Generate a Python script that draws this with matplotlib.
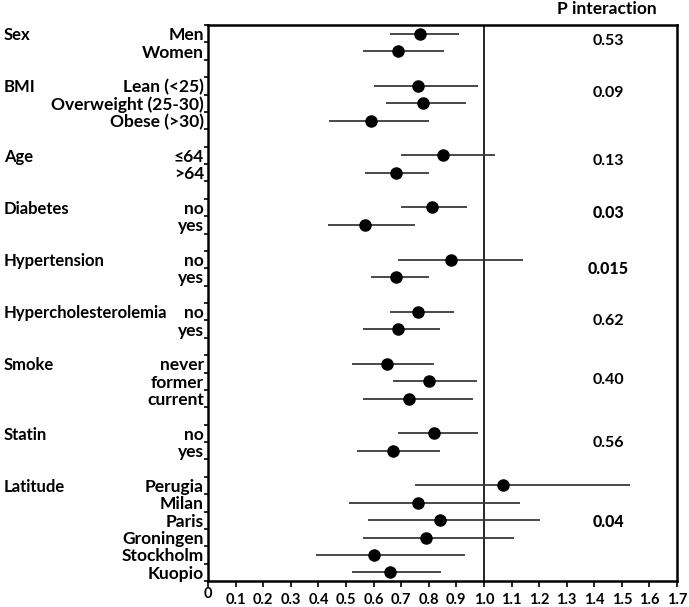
import numpy as np
import matplotlib.pyplot as plt
from matplotlib import transforms

plt.rcParams['font.family'] = ['Lato', 'DejaVu Sans']

# Sous-groupes et niveaux
groups = ["Sex", "BMI", "Age", "Diabetes", "Hypertension",
          "Hypercholesterolemia", "Smoke", "Statin", "Latitude"]
levels = [["Men", "Women"],
          ["Lean (<25)", "Overweight (25-30)", "Obese (>30)"],
          ["≤64", ">64"],
          ["no", "yes"],
          ["no", "yes"],
          ["no", "yes"],
          ["never", "former", "current"],
          ["no", "yes"],
          ["Perugia", "Milan", "Paris", "Groningen", "Stockholm", "Kuopio"]]

# Estimations et intervalles de confiance
estimate = [[0.77, 0.69],
            [0.76, 0.78, 0.59],
            [0.85, 0.68],
            [0.81, 0.57],
            [0.88, 0.68],
            [0.76, 0.69],
            [0.65, 0.80, 0.73],
            [0.82, 0.67],
            [1.07, 0.76, 0.84, 0.79, 0.60, 0.66]]
ci_low = [[0.66, 0.56],
          [0.60, 0.645, 0.44],
          [0.70, 0.57],
          [0.70, 0.435],
          [0.69, 0.59],
          [0.66, 0.56],
          [0.52, 0.67, 0.56],
          [0.69, 0.54],
          [0.75, 0.51, 0.58, 0.56, 0.39, 0.52]]
ci_high = [[0.91, 0.855],
           [0.98, 0.935, 0.80],
           [1.04, 0.80],
           [0.94, 0.75],
           [1.14, 0.80],
           [0.89, 0.84],
           [0.82, 0.975, 0.96],
           [0.98, 0.84],
           [1.53, 1.13, 1.205, 1.11, 0.93, 0.845]]

p_values = ["0.53", "0.09", "0.13", "0.03", "0.015", "0.62", "0.40", "0.56", "0.04"]
p_bold = [False, False, False, True, True, False, False, False, True]

xticks = [round(0.1 * i, 1) for i in range(18)]
xticklabels = ["0"] + [f"{v:.1f}" for v in xticks[1:]]

# Position verticale du texte P par rapport a la premiere ligne du groupe
p_offset = [0.35, 0.3, 0.25, 0.25, 0.45, 0.45, 0.85, 0.45, 2.0]

fig = plt.figure(figsize=(6.89, 6.07), dpi=100)
ax = fig.add_axes([0.302, 0.0428, 0.6806, 0.916])
trans = transforms.blended_transform_factory(fig.transFigure, ax.transData)

row = 0
rows_all, labels_all = [], []
for g, name in enumerate(groups):
    n = len(levels[g])
    ys = np.arange(row, row + n)
    ax.hlines(ys, ci_low[g], ci_high[g], color="#3a3a3a", lw=1.3, zorder=2)
    ax.plot(estimate[g], ys, "o", color="black", ms=8, zorder=3)
    fig.text(4 / 689, row, name, transform=trans, ha="left",
             va="center_baseline", fontsize=12, fontweight="bold")
    ax.text(1.45, row + p_offset[g], p_values[g], ha="center",
            va="center_baseline", fontsize=11.5,
            fontweight="black" if p_bold[g] else "bold")
    rows_all.extend(ys)
    labels_all.extend(levels[g])
    row += n + 1

nrows = row - 1
ax.axvline(1.0, color="black", lw=1.2, zorder=1)

ax.set_xlim(0, 1.7)
ax.set_ylim(nrows - 0.5, -0.5)

ax.set_yticks(rows_all)
ax.set_yticklabels(labels_all, fontsize=12.5, fontweight="bold")
ax.tick_params(axis="y", which="major", length=0, pad=3)
ax.set_yticks(np.arange(-0.5, nrows, 1.0), minor=True)
ax.tick_params(axis="y", which="minor", length=3, width=1.2, direction="out")

ax.set_xticks(xticks)
ax.set_xticklabels(xticklabels, fontsize=10.5, fontweight="bold")
ax.tick_params(axis="x", length=4, width=1.2, direction="out", pad=4.5)
ax.xaxis.get_major_ticks()[0].set_pad(0.5)

for side in ["left", "bottom", "top", "right"]:
    ax.spines[side].set_linewidth(1.8)

fig.text(607 / 689, 1 - 9 / 607, "P interaction", ha="center", va="center",
         fontsize=12.5, fontweight="bold")

fig.savefig("out.png", dpi=100)
